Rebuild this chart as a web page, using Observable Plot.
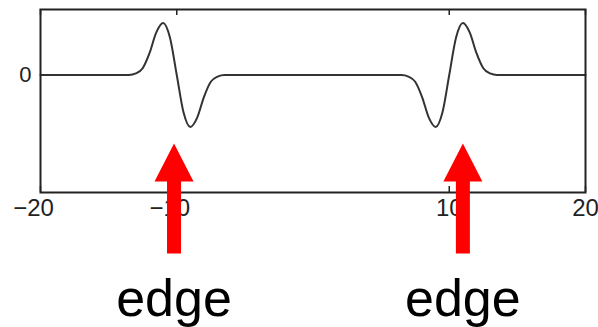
<!DOCTYPE html>
<html>
<head>
<meta charset="utf-8">
<script src="https://cdn.jsdelivr.net/npm/d3@7"></script>
<script src="https://cdn.jsdelivr.net/npm/@observablehq/plot@0.6"></script>
<style>
  html, body { margin: 0; padding: 0; background: #fff; }
  #chart svg { display: block; }
</style>
</head>
<body>
<div id="chart"></div>
<script>
// Curve samples
const curveX = [-20, -13.5, -13, -12.5, -12, -11.5, -11, -10.5, -10, -9.5, -9, -8.5, -8, -7.5, -7, -6.5,
                6.5, 7, 7.5, 8, 8.5, 9, 9.5, 10, 10.5, 11, 11.5, 12, 12.5, 13, 13.5, 20];
const curveY = [0, 0, 0.03, 0.13, 0.42, 0.82, 1.0, 0.72, 0, -0.72, -1.0, -0.82, -0.42, -0.13, -0.03, 0,
                0, -0.03, -0.13, -0.42, -0.82, -1.0, -0.72, 0, 0.72, 1.0, 0.82, 0.42, 0.13, 0.03, 0, 0];

// Axis ticks
const xTicksNeg = [-20, -10];
const xTicksPos = [10, 20];
const yTicks = [0];

// Edge annotations
const edgeX = [-10.2, 11.0];
const edgeLabels = ["edge", "edge"];

const curve = curveX.map((x, i) => ({x, y: curveY[i]}));
const edges = edgeX.map((x, i) => ({x, label: edgeLabels[i]}));

// Block arrow symbol, tip at origin, pointing up
const blockArrow = {
  draw(ctx) {
    ctx.moveTo(0, 0);
    ctx.lineTo(19.5, 38);
    ctx.lineTo(7, 38);
    ctx.lineTo(7, 110);
    ctx.lineTo(-7, 110);
    ctx.lineTo(-7, 38);
    ctx.lineTo(-19.5, 38);
    ctx.closePath();
  }
};

const font = "'Liberation Sans', Arial, Helvetica, sans-serif";
const frameH = 327 - 9 - 135;
const fmt = d3.format("d");

const chart = Plot.plot({
  width: 598,
  height: 327,
  marginLeft: 40,
  marginRight: 13,
  marginTop: 9,
  marginBottom: 135,
  style: {fontFamily: font, background: "#fff", overflow: "visible"},
  x: {domain: [-20, 20], axis: null, label: null},
  y: {domain: [-2.26, 1.26], axis: null, label: null},
  marks: [
    // inward ticks
    Plot.tickX([...xTicksNeg, ...xTicksPos], {x: d => d, stroke: "#222", strokeWidth: 1.5, insetTop: frameH - 6}),
    Plot.tickX([...xTicksNeg, ...xTicksPos], {x: d => d, stroke: "#222", strokeWidth: 1.5, insetBottom: frameH - 6}),
    Plot.tickY(yTicks, {y: d => d, stroke: "#222", strokeWidth: 1.5, insetRight: 545 - 7}),
    Plot.tickY(yTicks, {y: d => d, stroke: "#222", strokeWidth: 1.5, insetLeft: 545 - 7}),
    // the signal
    Plot.line(curve, {x: "x", y: "y", stroke: "#333", strokeWidth: 2, curve: "monotone-x"}),
    Plot.frame({stroke: "#222", strokeWidth: 2}),
    // axis labels
    Plot.axisX({ticks: xTicksNeg, tickSize: 0, tickPadding: 6, fontSize: 24, dx: -7, fill: "#222", label: null, tickFormat: fmt}),
    Plot.axisX({ticks: xTicksPos, tickSize: 0, tickPadding: 6, fontSize: 24, fill: "#222", label: null, tickFormat: fmt}),
    Plot.axisY({ticks: yTicks, tickSize: 0, tickPadding: 9, fontSize: 22, fill: "#222", label: null, tickFormat: fmt}),
    // arrows
    Plot.dot(edges, {x: "x", frameAnchor: "bottom", dy: -49, symbol: blockArrow, fill: "#ff0000", stroke: "none"}),
    Plot.text(edges, {x: "x", text: "label", frameAnchor: "bottom", lineAnchor: "bottom", dy: 123, fontSize: 52, fill: "#000"})
  ]
});
document.getElementById("chart").appendChild(chart);
</script>
</body>
</html>
